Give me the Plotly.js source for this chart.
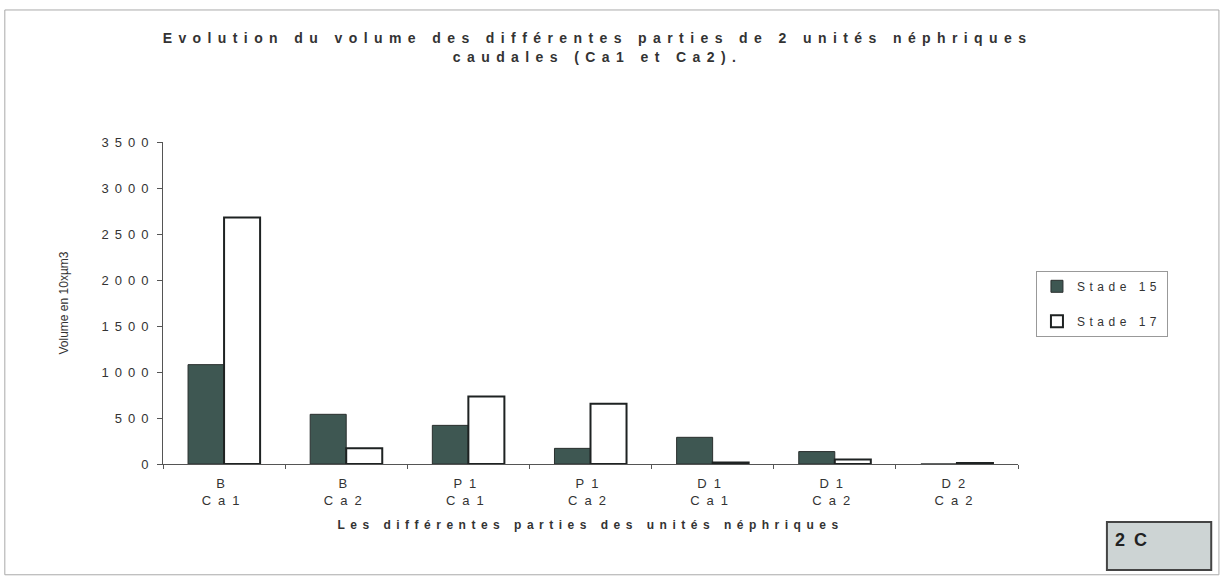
<!DOCTYPE html>
<html>
<head>
<meta charset="utf-8">
<script src="https://cdn.plot.ly/plotly-3.0.1.min.js"></script>
<style>
  html, body { margin: 0; padding: 0; background: #ffffff; }
  #chart { width: 1227px; height: 579px; }
  .gtitle { letter-spacing: 6.4px; }
  .xtitle { letter-spacing: 5.5px; }
  .xtick text { letter-spacing: 7px; }
  .ytick text { letter-spacing: 6px; }
  .legendtext { letter-spacing: 4.5px; }
  .annotation-text { letter-spacing: 2px; }
</style>
</head>
<body>
<div id="chart"></div>
<script>
const categories = ["B<br>Ca1", "B<br>Ca2", "P1<br>Ca1", "P1<br>Ca2", "D1<br>Ca1", "D1<br>Ca2", "D2<br>Ca2"];
const stade15 = [1080, 540, 420, 170, 290, 135, 0];
const stade17 = [2680, 170, 735, 655, 15, 50, 10];
const seriesNames = ["Stade 15", "Stade 17"];

const fontFam = "Liberation Sans, Arial, sans-serif";

const traces = [
  {
    type: "bar", name: seriesNames[0], x: categories, y: stade15, legendgroup: "s15",
    marker: { color: "#3e5752", line: { color: "#2a2f2e", width: 1 } }
  },
  {
    type: "bar", name: seriesNames[1], x: categories, y: stade17, legendgroup: "s17",
    marker: { color: "#ffffff", line: { color: "#1e2222", width: 2 } }
  }
];

const layout = {
  width: 1227, height: 579,
  paper_bgcolor: "#ffffff", plot_bgcolor: "#ffffff",
  margin: { l: 163, r: 209, t: 142, b: 115 },
  font: { family: fontFam, color: "#333333", size: 12 },
  title: {
    text: "<b>Evolution du volume des différentes parties de 2 unités néphriques<br>caudales (Ca1 et Ca2).</b>",
    font: { family: fontFam, size: 14, color: "#333333" },
    x: 0.487, xanchor: "center", y: 0.925, yanchor: "top"
  },
  barmode: "group", bargap: 0.41, bargroupgap: 0,
  xaxis: {
    title: { text: "<b>Les différentes parties des unités néphriques</b>", font: { size: 12, color: "#333" }, standoff: 14 },
    showline: true, linecolor: "#555", linewidth: 1,
    ticks: "outside", tickson: "boundaries", ticklen: 4, tickcolor: "#555",
    ticklabelstandoff: 7,
    tickfont: { size: 13, color: "#333" }, showgrid: false
  },
  yaxis: {
    title: { text: "Volume en 10xµm3", font: { family: fontFam, size: 12, color: "#333" }, standoff: 30 },
    range: [0, 3500], dtick: 500, tick0: 0,
    showline: true, linecolor: "#555", linewidth: 1,
    ticks: "outside", ticklen: 5, tickcolor: "#555",
    tickfont: { size: 13, color: "#333" }, showgrid: false, zeroline: false
  },
  legend: {
    x: 1.021, xanchor: "left", y: 0.6, yanchor: "top",
    bordercolor: "#999", borderwidth: 1, bgcolor: "#ffffff",
    font: { size: 12, color: "#333" }, tracegroupgap: 16, itemwidth: 30
  },
  shapes: [
    { type: "rect", xref: "paper", yref: "paper", x0: -0.185, x1: 1.235, y0: -0.344, y1: 1.41,
      line: { color: "#aaaaaa", width: 1 }, fillcolor: "rgba(0,0,0,0)" },
    { type: "rect", xref: "paper", yref: "paper", x0: 1.104, x1: 1.226, y0: -0.329, y1: -0.18,
      line: { color: "#444", width: 2 }, fillcolor: "#cdd4d4" }
  ],
  annotations: [
    { text: "<b>2 C</b>", xref: "paper", yref: "paper", x: 1.111, y: -0.235, xanchor: "left", yanchor: "middle",
      showarrow: false, font: { family: fontFam, size: 18, color: "#222" } }
  ]
};

Plotly.newPlot("chart", traces, layout, { displayModeBar: false, staticPlot: true });
</script>
</body>
</html>
